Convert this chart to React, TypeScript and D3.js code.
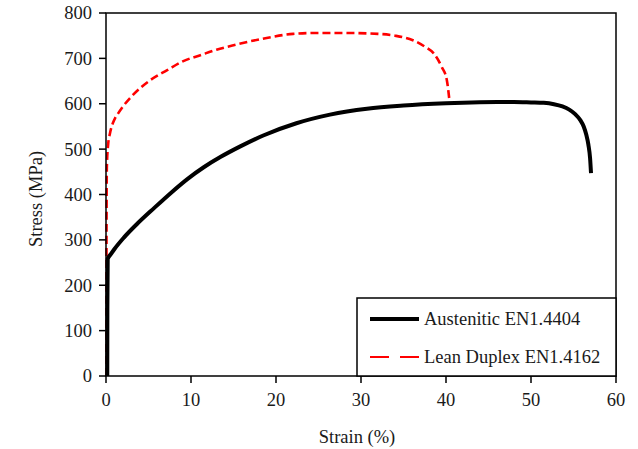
import React from "react";
import * as d3 from "d3";

const xTicks = [0, 10, 20, 30, 40, 50, 60];
const yTicks = [0, 100, 200, 300, 400, 500, 600, 700, 800];

const austStrain = [0.15, 0.16, 0.2, 0.55, 1, 2.1, 3.7, 5.65, 7.6, 9.57, 11.5, 13.5, 15.8, 18.5, 22.4, 26.35, 30.7, 35, 40, 43, 46, 48, 50, 51.5, 52.7, 53.7, 54.5, 55.2, 55.8, 56.2, 56.5, 56.75, 56.95, 57.06];
const austStress = [0, 150, 258, 268, 280, 305, 336, 370, 403, 434, 460, 483, 506, 530, 557, 576, 589, 596, 601, 603, 604, 604, 603, 602, 599, 594, 587, 577, 564, 550, 532, 510, 480, 447];

const duplexStrain = [0.05, 0.06, 0.1, 0.25, 0.47, 0.8, 1.06, 1.3, 2, 3.2, 5.2, 7.2, 9.1, 11.1, 13, 15, 18.9, 22, 25, 28, 32, 34, 36.1, 37.5, 38.5, 39.5, 40.1, 40.4];
const duplexStress = [0, 300, 460, 510, 535, 557, 568, 575, 594, 620, 652, 674, 694, 707, 719, 729, 745, 754, 756, 756, 754, 750, 740, 726, 712, 681, 652, 608];

const legendLabels = ["Austenitic EN1.4404", "Lean Duplex EN1.4162"];

export default function App() {
  const W = 638, H = 449;
  const x = d3.scaleLinear().domain([0, 60]).range([106, 616]);
  const y = d3.scaleLinear().domain([0, 800]).range([376, 13]);
  const line = d3.line<[number, number]>().x(d => x(d[0])).y(d => y(d[1])).curve(d3.curveMonotoneX);
  const aust = austStrain.map((s, i) => [s, austStress[i]] as [number, number]);
  const dup = duplexStrain.map((s, i) => [s, duplexStress[i]] as [number, number]);
  const font = "'Liberation Serif', 'Times New Roman', serif";
  const fs = 18.5;
  const tc = "#1a1a1a";
  return (
    <svg width={W} height={H} style={{ position: "absolute", left: 0, top: 0, background: "#fff" }} fontFamily={font}>
      <rect x={0} y={0} width={W} height={H} fill="#fff" />
      <path d={line(dup) || ""} fill="none" stroke="#ff0000" strokeWidth={2.6} strokeDasharray="8,4" />
      <path d={line(aust) || ""} fill="none" stroke="#000" strokeWidth={4} strokeLinejoin="round" />
      <rect x={106} y={13} width={510} height={363} fill="none" stroke="#000" strokeWidth={1.5} />
      {yTicks.map(t => (
        <g key={"y" + t}>
          <line x1={99} x2={106} y1={y(t)} y2={y(t)} stroke="#000" strokeWidth={1.5} />
          <text x={92} y={y(t)} dy="0.35em" textAnchor="end" fontSize={fs} fill={tc}>{t}</text>
        </g>
      ))}
      {xTicks.map(t => (
        <g key={"x" + t}>
          <line x1={x(t)} x2={x(t)} y1={376} y2={383} stroke="#000" strokeWidth={1.5} />
          <text x={x(t)} y={406} textAnchor="middle" fontSize={fs} fill={tc}>{t}</text>
        </g>
      ))}
      <text x={357} y={443} textAnchor="middle" fontSize={fs} fill={tc}>Strain (%)</text>
      <text transform="translate(42,199) rotate(-90)" textAnchor="middle" fontSize={fs} fill={tc}>Stress (MPa)</text>
      <rect x={357} y={298} width={259} height={78} fill="#fff" stroke="#000" strokeWidth={1.5} />
      <line x1={370} x2={419} y1={319} y2={319} stroke="#000" strokeWidth={4} />
      <text x={424} y={325} fontSize={fs} fill={tc}>{legendLabels[0]}</text>
      <line x1={370} x2={419} y1={357} y2={357} stroke="#ff0000" strokeWidth={2.2} strokeDasharray="19,11" />
      <text x={424} y={363} fontSize={fs} fill={tc}>{legendLabels[1]}</text>
    </svg>
  );
}
